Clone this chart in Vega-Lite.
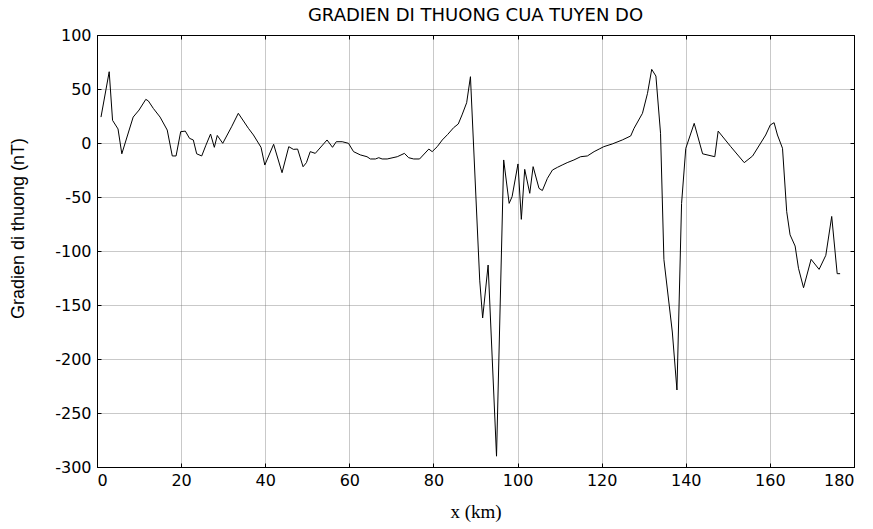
{
  "$schema": "https://vega.github.io/schema/vega-lite/v6.json",
  "autosize": {"type": "none"},
  "padding": {"left": 97, "top": 35, "right": 19, "bottom": 62},
  "width": 757,
  "height": 432,
  "background": "white",
  "title": {
    "text": "GRADIEN DI THUONG CUA TUYEN DO",
    "font": "DejaVu Sans",
    "fontSize": 18,
    "fontWeight": "normal",
    "color": "black",
    "anchor": "middle",
    "offset": 12,
    "dy": 10
  },
  "config": {
    "view": {"stroke": "black", "strokeWidth": 1},
    "axis": {
      "domainColor": "black",
      "domainWidth": 1,
      "grid": true,
      "gridColor": "#777777",
      "gridDash": [1, 1],
      "gridWidth": 0.8,
      "ticks": true,
      "tickColor": "black",
      "tickSize": -4,
      "labelFont": "DejaVu Sans",
      "labelFontSize": 16,
      "labelColor": "black",
      "labelExpr": "'' + datum.value",
      "titleColor": "black",
      "titleFontWeight": "normal"
    }
  },
  "data": {
    "values": [
      {"x": 0.95, "g": 24}, {"x": 2.9, "g": 66}, {"x": 3.7, "g": 21}, {"x": 5, "g": 13},
      {"x": 5.9, "g": -10}, {"x": 8.6, "g": 24}, {"x": 10, "g": 30.5}, {"x": 11.6, "g": 40.4},
      {"x": 12.2, "g": 39}, {"x": 13.4, "g": 32}, {"x": 15, "g": 24}, {"x": 16.7, "g": 12},
      {"x": 17.9, "g": -12}, {"x": 18.8, "g": -12}, {"x": 19.9, "g": 10.5}, {"x": 21, "g": 11},
      {"x": 22, "g": 4.3}, {"x": 22.9, "g": 2.8}, {"x": 23.7, "g": -10}, {"x": 24.9, "g": -12},
      {"x": 25.9, "g": -2}, {"x": 27, "g": 8.3}, {"x": 27.9, "g": -4}, {"x": 28.6, "g": 7},
      {"x": 29.9, "g": -0.3}, {"x": 32, "g": 15}, {"x": 33.6, "g": 27.5}, {"x": 36, "g": 13.6},
      {"x": 37.2, "g": 7.4}, {"x": 39, "g": -4}, {"x": 39.9, "g": -20.4}, {"x": 42, "g": -1.2},
      {"x": 44, "g": -27.5}, {"x": 45.6, "g": -3.4}, {"x": 46.7, "g": -5.9}, {"x": 47.7, "g": -5.6},
      {"x": 49, "g": -22}, {"x": 49.8, "g": -18.2}, {"x": 50.7, "g": -8}, {"x": 51.9, "g": -9.6},
      {"x": 54.7, "g": 2.8}, {"x": 56, "g": -4}, {"x": 56.9, "g": 1.2}, {"x": 58.3, "g": 1.2},
      {"x": 59.8, "g": -0.3}, {"x": 61, "g": -8}, {"x": 62.6, "g": -11}, {"x": 64.2, "g": -12.7},
      {"x": 65, "g": -14.8}, {"x": 66.2, "g": -14.8}, {"x": 67, "g": -13.6}, {"x": 67.8, "g": -14.8},
      {"x": 69, "g": -14.8}, {"x": 71.4, "g": -12.7}, {"x": 73.1, "g": -9.6}, {"x": 74.1, "g": -13.6},
      {"x": 75.3, "g": -14.8}, {"x": 76.7, "g": -14.8}, {"x": 78.9, "g": -5.6}, {"x": 79.7, "g": -8},
      {"x": 80.9, "g": -3.4}, {"x": 82.1, "g": 2.8}, {"x": 83.4, "g": 8}, {"x": 84.8, "g": 14.2},
      {"x": 85.9, "g": 17.6}, {"x": 86.8, "g": 26}, {"x": 87.9, "g": 37.3}, {"x": 88.8, "g": 61.4},
      {"x": 91, "g": -127}, {"x": 91.7, "g": -162}, {"x": 93, "g": -113}, {"x": 95, "g": -290},
      {"x": 96.7, "g": -15.7}, {"x": 98, "g": -55.9}, {"x": 98.7, "g": -49.7}, {"x": 100.1, "g": -19.4},
      {"x": 100.9, "g": -70.7}, {"x": 101.7, "g": -24.4}, {"x": 102.9, "g": -46.6}, {"x": 103.7, "g": -21.9},
      {"x": 105.1, "g": -42}, {"x": 105.9, "g": -44}, {"x": 107.1, "g": -32.7}, {"x": 108.3, "g": -25},
      {"x": 109.5, "g": -22.5}, {"x": 110.6, "g": -20.4}, {"x": 111.8, "g": -18.2}, {"x": 113.4, "g": -15.7},
      {"x": 115, "g": -12.7}, {"x": 116.6, "g": -12}, {"x": 118.2, "g": -8}, {"x": 119.4, "g": -5.6},
      {"x": 120.5, "g": -3.4}, {"x": 122.5, "g": -0.9}, {"x": 124.9, "g": 2.8}, {"x": 126.9, "g": 6.5},
      {"x": 127.7, "g": 13.6}, {"x": 129.7, "g": 27.5}, {"x": 130.9, "g": 46}, {"x": 131.9, "g": 68.2},
      {"x": 132.9, "g": 62}, {"x": 134, "g": 9}, {"x": 134.8, "g": -108}, {"x": 136.8, "g": -175},
      {"x": 137.9, "g": -228.7}, {"x": 139, "g": -56}, {"x": 140, "g": -5}, {"x": 142, "g": 18.2},
      {"x": 144, "g": -10}, {"x": 146.9, "g": -12.7}, {"x": 147.7, "g": 11}, {"x": 150.7, "g": -3.4},
      {"x": 153.9, "g": -18.2}, {"x": 155.9, "g": -12}, {"x": 159, "g": 7.4}, {"x": 160.1, "g": 16.7},
      {"x": 161, "g": 18.8}, {"x": 161.8, "g": 7.4}, {"x": 163, "g": -4.9}, {"x": 164, "g": -63.6},
      {"x": 164.8, "g": -85}, {"x": 166, "g": -95.4}, {"x": 166.8, "g": -116}, {"x": 168, "g": -134},
      {"x": 169.8, "g": -107.7}, {"x": 171.7, "g": -117}, {"x": 173.3, "g": -104}, {"x": 174.7, "g": -68},
      {"x": 176, "g": -121}, {"x": 176.7, "g": -121}
    ]
  },
  "resolve": {"axis": {"x": "independent", "y": "independent"}},
  "layer": [
    {
      "mark": {"type": "line", "color": "black", "strokeWidth": 1, "interpolate": "linear"},
      "encoding": {
        "x": {
          "field": "x", "type": "quantitative",
          "scale": {"domain": [0, 180], "nice": false, "zero": false},
          "axis": {
            "values": [0, 20, 40, 60, 80, 100, 120, 140, 160, 180],
            "labelPadding": 9,
            "title": "x (km)",
            "titleFont": "Liberation Serif",
            "titleFontSize": 19,
            "titlePadding": 14
          }
        },
        "y": {
          "field": "g", "type": "quantitative",
          "scale": {"domain": [-300, 100], "nice": false, "zero": false},
          "axis": {
            "values": [-300, -250, -200, -150, -100, -50, 0, 50, 100],
            "labelPadding": 10,
            "title": "Gradien di thuong (nT)",
            "titleFont": "Liberation Sans",
            "titleFontSize": 18,
            "titleX": -79,
            "titleY": 193,
            "titleAngle": -90,
            "titleBaseline": "middle",
            "titleAlign": "center"
          }
        }
      }
    },
    {
      "mark": {"type": "line", "color": "black", "strokeOpacity": 0},
      "encoding": {
        "x": {
          "field": "x", "type": "quantitative",
          "scale": {"domain": [0, 180], "nice": false, "zero": false},
          "axis": {"orient": "top", "values": [0, 20, 40, 60, 80, 100, 120, 140, 160, 180], "labels": false, "grid": false, "title": null, "minExtent": 0, "maxExtent": 0}
        },
        "y": {
          "field": "g", "type": "quantitative",
          "scale": {"domain": [-300, 100], "nice": false, "zero": false},
          "axis": {"orient": "right", "values": [-300, -250, -200, -150, -100, -50, 0, 50, 100], "labels": false, "grid": false, "title": null, "minExtent": 0, "maxExtent": 0}
        }
      }
    }
  ]
}
